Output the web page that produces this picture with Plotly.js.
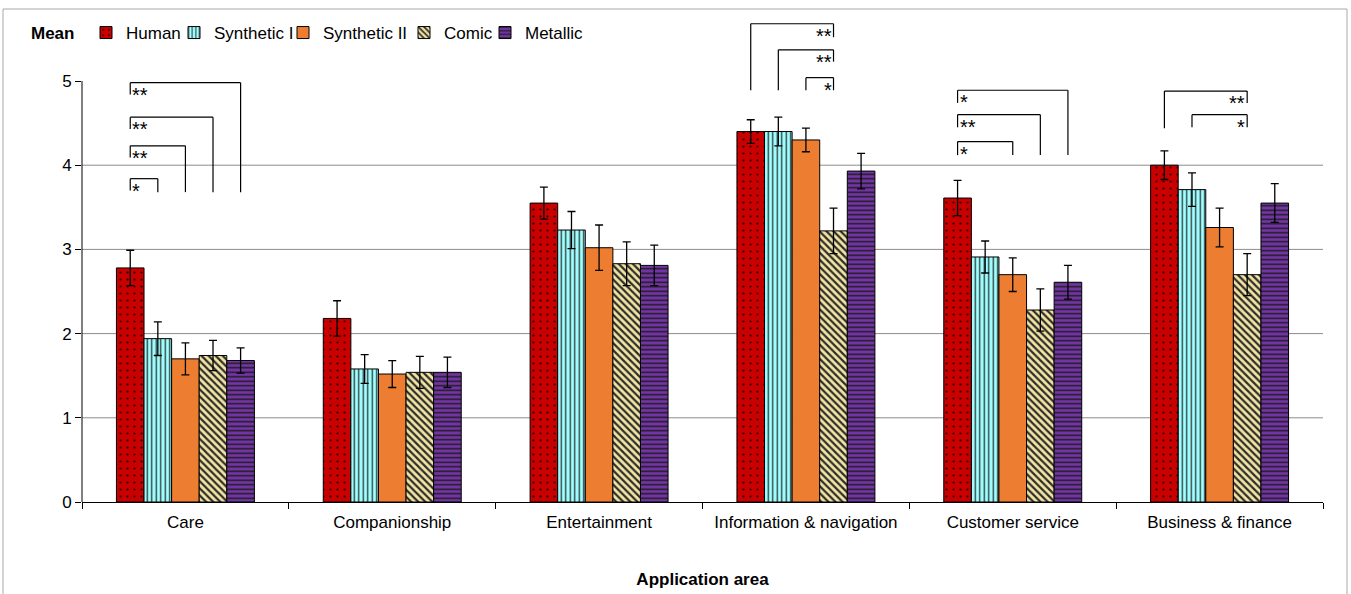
<!DOCTYPE html>
<html>
<head>
<meta charset="utf-8">
<script src="https://cdn.plot.ly/plotly-3.0.1.min.js"></script>
<style>html,body{margin:0;padding:0;background:#fff;}#chart{width:1351px;height:594px;}</style>
</head>
<body>
<div id="chart"></div>
<script>
// ---- data ----
const categories = ['Care', 'Companionship', 'Entertainment', 'Information & navigation', 'Customer service', 'Business & finance'];
const seriesNames = ['Human', 'Synthetic I', 'Synthetic II', 'Comic', 'Metallic'];
const human       = [2.78, 2.18, 3.55, 4.40, 3.61, 4.00];
const humanErr    = [0.21, 0.21, 0.19, 0.14, 0.21, 0.17];
const synth1      = [1.94, 1.58, 3.23, 4.40, 2.91, 3.71];
const synth1Err   = [0.20, 0.17, 0.22, 0.17, 0.19, 0.20];
const synth2      = [1.70, 1.52, 3.02, 4.30, 2.70, 3.26];
const synth2Err   = [0.19, 0.16, 0.27, 0.14, 0.20, 0.23];
const comic       = [1.74, 1.54, 2.83, 3.22, 2.28, 2.70];
const comicErr    = [0.18, 0.19, 0.26, 0.27, 0.25, 0.25];
const metallic    = [1.68, 1.54, 2.81, 3.93, 2.61, 3.55];
const metallicErr = [0.15, 0.18, 0.24, 0.21, 0.20, 0.23];
const yTicks = [0, 1, 2, 3, 4, 5];
const gridValues = [1, 2, 3, 4];
// significance brackets: [category, seriesFrom, seriesTo, yTop, yLeftEnd, yRightEnd, label, labelSide]
const significance = [
  [0, 0, 1, 3.84, 3.70, 3.68, '*', 'left'],
  [0, 0, 2, 4.23, 4.09, 3.68, '**', 'left'],
  [0, 0, 3, 4.57, 4.43, 3.68, '**', 'left'],
  [0, 0, 4, 4.98, 4.84, 3.68, '**', 'left'],
  [3, 0, 3, 5.68, 4.89, 5.52, '**', 'right'],
  [3, 1, 3, 5.37, 4.89, 5.23, '**', 'right'],
  [3, 2, 3, 5.04, 4.89, 4.89, '*', 'right'],
  [4, 0, 4, 4.89, 4.74, 4.12, '*', 'left'],
  [4, 0, 3, 4.60, 4.45, 4.12, '**', 'left'],
  [4, 0, 2, 4.28, 4.12, 4.12, '*', 'left'],
  [5, 0, 3, 4.88, 4.44, 4.74, '**', 'right'],
  [5, 1, 3, 4.60, 4.45, 4.45, '*', 'right']
];

// ---- styling ----
const FONT = 'Liberation Sans, Arial, Helvetica, sans-serif';
const values = [human, synth1, synth2, comic, metallic];
const errors = [humanErr, synth1Err, synth2Err, comicErr, metallicErr];
const patterns = [
  {shape: '.', bgcolor: '#C80000', fgcolor: '#2a0000', size: 7, solidity: 0.08, fillmode: 'replace'},
  {shape: '|', bgcolor: '#A2FFFF', fgcolor: '#2b3b3b', size: 4.5, solidity: 0.3, fillmode: 'replace'},
  {shape: '', bgcolor: '#ED7D31', fgcolor: '#ED7D31', size: 8, solidity: 0.2, fillmode: 'replace'},
  {shape: '\\', bgcolor: '#F3E5A2', fgcolor: '#2d2d2d', size: 5, solidity: 0.45, fillmode: 'replace'},
  {shape: '-', bgcolor: '#7434A6', fgcolor: '#1c1c1c', size: 4.5, solidity: 0.33, fillmode: 'replace'}
];
const baseColors = ['#C80000', '#A2FFFF', '#ED7D31', '#F3E5A2', '#7434A6'];
const legendNames = ['legend', 'legend2', 'legend3', 'legend4', 'legend5'];
const legendTextStart = [124, 212, 321, 442, 523]; // px

const margin = {l: 82, r: 28, t: 10, b: 92};
const plotW = 1351 - margin.l - margin.r;
const plotH = 594 - margin.t - margin.b;
const bargap = 0.333;
const nS = seriesNames.length;
const barW = (1 - bargap) / nS;
const barCenter = (c, s) => c - (1 - bargap) / 2 + barW * (s + 0.5);
const yMax = plotH / 84.2;

const traces = seriesNames.map((name, i) => {
  const t = {
    type: 'bar',
    name: name,
    x: categories,
    y: values[i],
    legend: legendNames[i],
    marker: {color: baseColors[i], line: {color: '#000', width: 1}},
    error_y: {type: 'data', array: errors[i], visible: true, color: '#000', thickness: 1.3, width: 4}
  };
  if (patterns[i].shape) t.marker.pattern = patterns[i];
  return t;
});

const shapes = [];
const annotations = [];
// gridlines
gridValues.forEach(v => shapes.push({type: 'line', xref: 'paper', yref: 'y', x0: 0, x1: 1, y0: v, y1: v,
  line: {color: '#8c8c8c', width: 1}, layer: 'below'}));
// y axis line up to max tick
shapes.push({type: 'line', xref: 'paper', yref: 'y', x0: 0, x1: 0, y0: yTicks[0], y1: yTicks[yTicks.length - 1],
  line: {color: '#000', width: 1}});
// outer frame
shapes.push({type: 'rect', xref: 'paper', yref: 'paper',
  x0: (3 - margin.l) / plotW, x1: (1347 - margin.l) / plotW,
  y0: -0.25, y1: (594 - margin.b - 9) / plotH,
  line: {color: '#a8a8a8', width: 1}, fillcolor: 'rgba(0,0,0,0)'});

significance.forEach(([c, a, b, yTop, yL, yR, label, side]) => {
  const xl = barCenter(c, a), xr = barCenter(c, b);
  const ln = {color: '#000', width: 1.2};
  shapes.push({type: 'line', xref: 'x', yref: 'y', x0: xl, x1: xl, y0: yL, y1: yTop, line: ln});
  shapes.push({type: 'line', xref: 'x', yref: 'y', x0: xl, x1: xr, y0: yTop, y1: yTop, line: ln});
  shapes.push({type: 'line', xref: 'x', yref: 'y', x0: xr, x1: xr, y0: yTop, y1: yR, line: ln});
  annotations.push({
    xref: 'x', yref: 'y', x: side === 'left' ? xl : xr, y: yTop,
    xanchor: side === 'left' ? 'left' : 'right', yanchor: 'top',
    xshift: 0, yshift: 1,
    text: label, showarrow: false, font: {family: FONT, size: 20, color: '#000'}
  });
});

annotations.push({xref: 'paper', yref: 'paper', x: (52 - margin.l) / plotW, y: (594 - margin.b - 33) / plotH,
  xanchor: 'center', yanchor: 'middle', text: '<b>Mean</b>', showarrow: false,
  font: {family: FONT, size: 17, color: '#000'}});

const layout = {
  width: 1351, height: 594,
  margin: margin,
  paper_bgcolor: '#fff', plot_bgcolor: 'rgba(0,0,0,0)',
  font: {family: FONT, size: 17, color: '#000'},
  barmode: 'group', bargap: bargap, bargroupgap: 0,
  xaxis: {
    type: 'category', tickson: 'boundaries', ticks: 'outside', ticklen: 6, tickcolor: '#000', tickwidth: 1,
    showline: true, linecolor: '#000', linewidth: 1, showgrid: false, zeroline: false,
    ticklabelstandoff: 5,
    tickfont: {family: FONT, size: 17, color: '#000'},
    title: {text: '<b>Application area</b>', font: {family: FONT, size: 17, color: '#000'}, standoff: 41},
    automargin: false
  },
  yaxis: {
    range: [0, yMax], tickvals: yTicks, ticks: 'outside', ticklen: 6, tickcolor: '#000',
    showline: false, showgrid: false, zeroline: false,
    tickfont: {family: FONT, size: 17, color: '#000'}, automargin: false
  },
  shapes: shapes,
  annotations: annotations,
  showlegend: true
};
legendNames.forEach((ln, i) => {
  layout[ln] = {
    x: (legendTextStart[i] - 38 - margin.l) / plotW, y: (594 - margin.b - 33) / plotH,
    xanchor: 'left', yanchor: 'middle', orientation: 'h',
    bgcolor: 'rgba(0,0,0,0)', borderwidth: 0,
    font: {family: FONT, size: 17, color: '#000'}
  };
});

Plotly.newPlot('chart', traces, layout, {displayModeBar: false, staticPlot: true});
</script>
</body>
</html>
